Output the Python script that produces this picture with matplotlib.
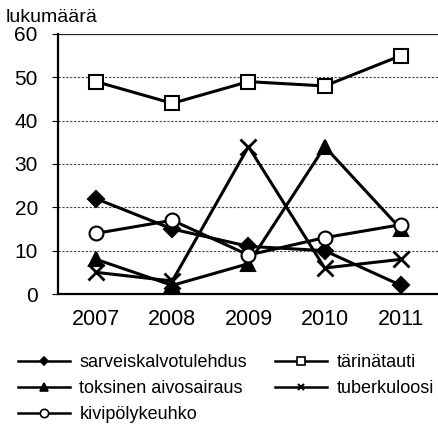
import matplotlib.pyplot as plt
from matplotlib.lines import Line2D

years = ["2007", "2008", "2009", "2010", "2011"]
sarveis = [22, 15, 11, 10, 2]
tarina = [49, 44, 49, 48, 55]
toksinen = [8, 2, 7, 34, 15]
tuberkuloosi = [5, 3, 34, 6, 8]
kivipoly = [14, 17, 9, 13, 16]

labels = ["sarveiskalvotulehdus", "tärinätauti", "toksinen aivosairaus",
          "tuberkuloosi", "kivipölykeuhko"]
series = [sarveis, tarina, toksinen, tuberkuloosi, kivipoly]
styles = [
    dict(marker="D", mfc="black", ms=8, mew=1.5),
    dict(marker="s", mfc="white", ms=10, mew=1.5),
    dict(marker="^", mfc="black", ms=10, mew=1.5),
    dict(marker="x", mfc="black", ms=11, mew=2),
    dict(marker="o", mfc="white", ms=10, mew=1.5),
]

plt.rcParams["font.family"] = ["Liberation Sans", "DejaVu Sans"]

fig = plt.figure(figsize=(4.39, 4.32), dpi=100)
ax = fig.add_axes([0.132, 0.3194, 0.868, 0.602])

x = list(range(len(years)))
for vals, st in zip(series, styles):
    ax.plot(x, vals, color="black", lw=2.2, mec="black", zorder=3, **st)

ax.set_xlim(-0.5, 4.5)
ax.set_ylim(0, 60)
ax.set_yticks(range(0, 61, 10))
ax.set_xticks(x)
ax.set_xticklabels(years)
for y in range(10, 60, 10):
    ax.axhline(y, color="#444444", lw=0.8, ls=(0, (2, 1.5)), zorder=1)
ax.axhline(60, color="#222222", lw=0.9, zorder=1)

for s in ["top", "right"]:
    ax.spines[s].set_visible(False)
ax.spines["left"].set_linewidth(1.6)
ax.spines["bottom"].set_linewidth(1.6)
ax.tick_params(axis="x", length=0, labelsize=15.5, pad=11)
ax.tick_params(axis="y", length=4.5, width=0.8, labelsize=15, pad=10)

fig.text(0.012, 0.96, "lukumäärä", fontsize=14, ha="left", va="center")

# legend proxies with smaller markers, column-first ordering
small = [
    dict(marker="D", mfc="black", ms=4, mew=1.2),
    dict(marker="s", mfc="white", ms=6, mew=1.2),
    dict(marker="^", mfc="black", ms=6, mew=1.2),
    dict(marker="x", mfc="black", ms=5, mew=1.5),
    dict(marker="o", mfc="white", ms=6, mew=1.2),
]
handles = [Line2D([], [], color="black", lw=1.8, mec="black", **s)
           for s in small]
order = [0, 2, 4, 1, 3]
fig.legend([handles[i] for i in order], [labels[i] for i in order],
           loc="upper left", bbox_to_anchor=(0.041, 0.18), ncol=2,
           frameon=False, fontsize=13, handlelength=2.9, handletextpad=0.5,
           columnspacing=1.55, labelspacing=0.5, borderaxespad=0, borderpad=0)

fig.savefig("out.png", dpi=100)
